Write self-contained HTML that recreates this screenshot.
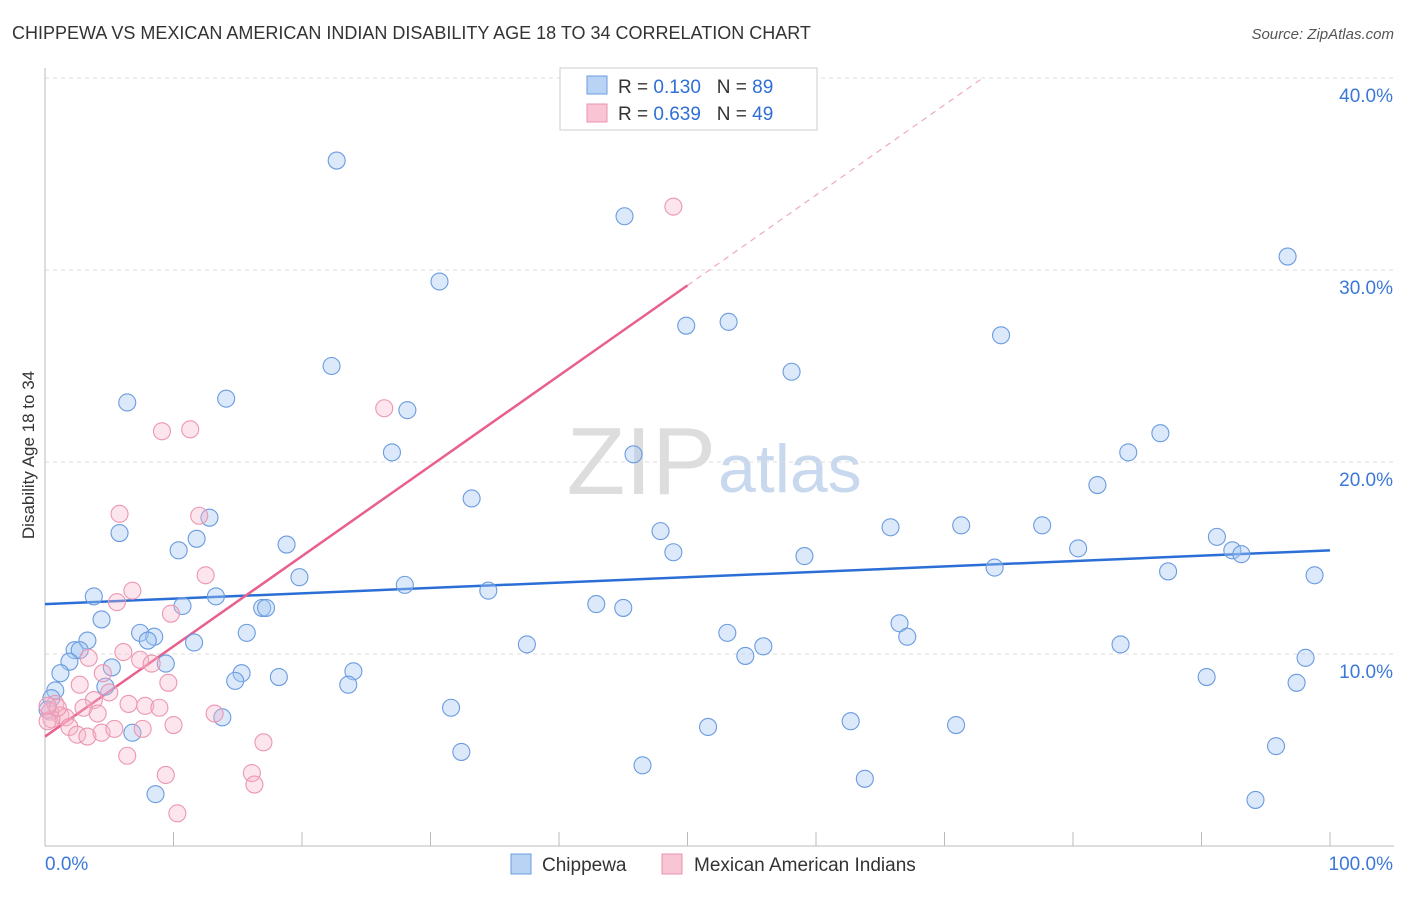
<!DOCTYPE html>
<html><head><meta charset="utf-8"><style>
body{margin:0;background:#fff;font-family:"Liberation Sans",sans-serif;}
svg text{font-family:"Liberation Sans",sans-serif;}
</style></head><body>
<svg id="chart" width="1406" height="892">
<text x="12" y="39" font-size="18" fill="#333">CHIPPEWA VS MEXICAN AMERICAN INDIAN DISABILITY AGE 18 TO 34 CORRELATION CHART</text>
<text x="1394" y="39" font-size="15" fill="#555" text-anchor="end" font-style="italic">Source: ZipAtlas.com</text>
<text x="34" y="455" font-size="17" fill="#333" text-anchor="middle" transform="rotate(-90 34 455)">Disability Age 18 to 34</text>
<text x="716" y="494" font-size="96" fill="#ddd" text-anchor="end" font-family="Liberation Serif">ZIP</text>
<text x="718" y="492" font-size="68" fill="#c8d8ee">atlas</text>
<g id="grid"></g><g id="axes"></g><g id="trends"></g><g id="pts"></g>
<g>
<rect x="560" y="68" width="257" height="62" fill="#fff" stroke="#ccc"/>
<rect x="587" y="76" width="20" height="18" fill="#b9d3f5" stroke="#6b9ce0"/>
<rect x="587" y="104" width="20" height="18" fill="#f9c5d4" stroke="#ea93ae"/>
<text x="618" y="93" font-size="19" fill="#333">R = <tspan fill="#2f6fd6">0.130</tspan>&#160;&#160;&#160;N = <tspan fill="#2f6fd6">89</tspan></text>
<text x="618" y="120" font-size="19" fill="#333">R = <tspan fill="#2f6fd6">0.639</tspan>&#160;&#160;&#160;N = <tspan fill="#2f6fd6">49</tspan></text>
</g>
<g>
<rect x="511" y="854" width="20" height="20" fill="#b9d3f5" stroke="#6b9ce0"/>
<text x="542" y="871" font-size="19" fill="#333">Chippewa</text>
<rect x="662" y="854" width="20" height="20" fill="#f9c5d4" stroke="#ea93ae"/>
<text x="694" y="871" font-size="19" fill="#333">Mexican American Indians</text>
</g>
</svg>
<script>
const blueX=[22.7,45.1,96.7,30.7,49.9,53.2,74.4,22.3,58.1,6.4,14.1,28.2,27.0,45.8,84.3,86.8,33.2,81.9,5.8,12.8,11.8,10.4,18.8,47.9,48.9,65.8,71.3,77.6,80.4,59.1,91.2,92.4,93.1,19.8,28.0,34.5,73.9,87.4,98.8,3.8,10.7,13.3,16.9,17.2,42.9,45.0,4.4,7.4,8.5,8.0,3.3,11.6,15.7,53.1,66.5,67.1,37.5,55.9,54.5,83.7,2.3,2.7,1.9,5.2,9.4,1.2,15.3,14.8,18.2,24.0,23.6,98.1,90.4,97.4,0.8,4.7,0.5,31.6,13.8,51.6,62.7,70.9,6.8,32.4,46.5,63.8,95.8,8.6,94.2,0.2];
const blueY=[35.7,32.8,30.7,29.4,27.1,27.3,26.6,25.0,24.7,23.1,23.3,22.7,20.5,20.4,20.5,21.5,18.1,18.8,16.3,17.1,16.0,15.4,15.7,16.4,15.3,16.6,16.7,16.7,15.5,15.1,16.1,15.4,15.2,14.0,13.6,13.3,14.5,14.3,14.1,13.0,12.5,13.0,12.4,12.4,12.6,12.4,11.8,11.1,10.9,10.7,10.7,10.6,11.1,11.1,11.6,10.9,10.5,10.4,9.9,10.5,10.2,10.2,9.6,9.3,9.5,9.0,9.0,8.6,8.8,9.1,8.4,9.8,8.8,8.5,8.1,8.3,7.7,7.2,6.7,6.2,6.5,6.3,5.9,4.9,4.2,3.5,5.2,2.7,2.4,7.1];
const pinkX=[48.9,26.4,9.1,11.3,5.8,12.0,12.5,6.8,5.6,9.8,6.1,3.4,7.4,8.3,9.6,4.5,5.0,2.7,3.8,6.5,7.8,8.9,3.0,4.1,0.8,0.4,1.2,1.6,1.9,2.5,3.3,4.4,5.4,7.6,10.0,13.2,0.5,0.2,6.4,17.0,9.4,16.1,16.3,10.3,1.0,0.2];
const pinkY=[33.3,22.8,21.6,21.7,17.3,17.2,14.1,13.3,12.7,12.1,10.1,9.8,9.7,9.5,8.5,9.0,8.0,8.4,7.6,7.4,7.3,7.2,7.2,6.9,7.4,7.0,6.8,6.7,6.2,5.8,5.7,5.9,6.1,6.1,6.3,6.9,6.6,6.5,4.7,5.4,3.7,3.8,3.2,1.7,7.2,7.3];
const blueTrend=[12.6,15.4];
const pinkTrend=[5.7,29.2]; // value at x=0 and x=50
const yTicks=[10,20,30,40];
const xTickLabels=["0.0%","100.0%"];
const NS="http://www.w3.org/2000/svg";
const X=v=>45+v*12.85, Y=v=>846-v*19.2;
function mk(tag,attrs,parent){const e=document.createElementNS(NS,tag);for(const k in attrs)e.setAttribute(k,attrs[k]);parent.appendChild(e);return e;}
const grid=document.getElementById('grid'),axes=document.getElementById('axes'),trends=document.getElementById('trends'),pts=document.getElementById('pts');
yTicks.forEach(t=>{
 const l=mk('line',{x1:45,x2:1394,y1:Y(t),y2:Y(t),stroke:'#ddd','stroke-dasharray':'4 4'},grid);
 
 
 const tx=mk('text',{x:1393,y:Y(t)+24,'font-size':19,fill:'#3b78d8','text-anchor':'end'},grid);
 tx.textContent=t.toFixed(1)+'%';
 
 
});
mk('line',{x1:45,x2:45,y1:68,y2:846,stroke:'#bbb'},axes);
mk('line',{x1:45,x2:1394,y1:846,y2:846,stroke:'#bbb'},axes);
for(let i=0;i<=10;i++){mk('line',{x1:X(i*10),x2:X(i*10),y1:832,y2:846,stroke:'#bbb'},axes);}
const t0=mk('text',{x:45,y:870,'font-size':19,fill:'#3b78d8'},axes);t0.textContent=xTickLabels[0];


const t1=mk('text',{x:1393,y:870,'font-size':19,fill:'#3b78d8','text-anchor':'end'},axes);t1.textContent=xTickLabels[1];


function dots(xs,ys,fill,stroke,name){xs.forEach((x,i)=>{const c=mk('circle',{cx:X(x),cy:Y(ys[i]),r:8.5,fill:fill,stroke:stroke,'stroke-width':1.1},pts);
 
 });}
dots(blueX,blueY,'rgba(165,200,242,0.4)','#6b9be0','chippewa-point');
dots(pinkX,pinkY,'rgba(246,180,200,0.35)','#eb97b2','mexican-point');
const bl=mk('line',{x1:X(0),y1:Y(blueTrend[0]),x2:X(100),y2:Y(blueTrend[1]),stroke:'#2b6fd6','stroke-width':2.5},trends);


const ps=(pinkTrend[1]-pinkTrend[0])/50;
const pl=mk('line',{x1:X(0),y1:Y(pinkTrend[0]),x2:X(50),y2:Y(pinkTrend[1]),stroke:'#e8608c','stroke-width':2.5},trends);


const xe=(40-pinkTrend[0])/ps;
const pd=mk('line',{x1:X(50),y1:Y(pinkTrend[1]),x2:X(xe),y2:Y(40),stroke:'#eeaabf','stroke-width':1.2,'stroke-dasharray':'6 5'},trends);


</script>
</body></html>
